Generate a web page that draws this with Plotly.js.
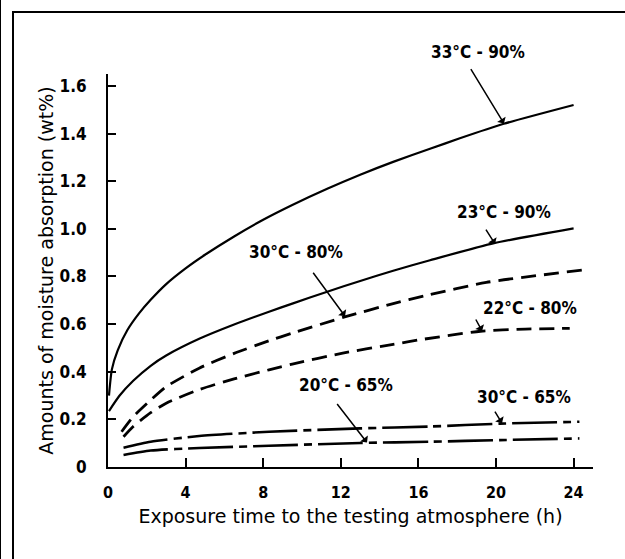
<!DOCTYPE html>
<html>
<head>
<meta charset="utf-8">
<script src="https://cdn.plot.ly/plotly-3.0.1.min.js"></script>
<style>
  html, body { margin: 0; padding: 0; background: #fff; }
  #wrap { position: relative; width: 625px; height: 559px; overflow: hidden; }
  #chart { position: absolute; left: 0; top: 0; width: 625px; height: 559px; }
  .fr { position: absolute; background: #000; }
</style>
</head>
<body>
<div id="wrap">
  <div id="chart"></div>
  <div class="fr" style="left:0;top:0;width:1px;height:559px;"></div>
  <div class="fr" style="left:12px;top:11px;width:2px;height:548px;"></div>
  <div class="fr" style="left:12px;top:11px;width:613px;height:2px;"></div>
</div>
<script>
// ---- data ----
const xTicks = [0, 4, 8, 12, 16, 20, 24];
const yTicks = [0, 0.2, 0.4, 0.6, 0.8, 1.0, 1.2, 1.4, 1.6];
const yTickText = ['0', '0.2', '0.4', '0.6', '0.8', '1.0', '1.2', '1.4', '1.6'];

const seriesNames = ['33°C - 90%', '23°C - 90%', '30°C - 80%', '22°C - 80%', '30°C - 65%', '20°C - 65%'];

const x33_90 = [0.05, 0.2, 0.5, 1.0, 1.6, 2.2, 3.0, 4.0, 5.0, 6.5, 8.0, 9.5, 11.3, 13.0, 14.7, 16.6, 18.1, 20.4, 24.0];
const y33_90 = [0.30, 0.41, 0.49, 0.575, 0.645, 0.702, 0.768, 0.834, 0.891, 0.968, 1.038, 1.100, 1.168, 1.227, 1.281, 1.336, 1.379, 1.441, 1.520];

const x23_90 = [0.05, 0.6, 1.3, 2.2, 3.0, 4.7, 6.5, 8.3, 9.5, 11.3, 13.0, 14.7, 16.6, 19.9, 24.0];
const y23_90 = [0.235, 0.30, 0.362, 0.425, 0.468, 0.538, 0.598, 0.652, 0.686, 0.736, 0.781, 0.824, 0.868, 0.940, 1.002];

const x30_80 = [0.7, 1.3, 2.2, 3.0, 4.7, 6.5, 8.3, 9.5, 12.2, 14.7, 16.3, 19.5, 24.5];
const y30_80 = [0.148, 0.211, 0.281, 0.337, 0.415, 0.477, 0.530, 0.562, 0.630, 0.686, 0.718, 0.775, 0.827];

const x22_80 = [0.8, 1.3, 2.2, 3.0, 4.7, 6.5, 8.3, 9.5, 12.1, 14.7, 16.3, 19.2, 21.5, 23.8];
const y22_80 = [0.127, 0.170, 0.228, 0.268, 0.325, 0.370, 0.408, 0.432, 0.478, 0.515, 0.537, 0.570, 0.579, 0.582];

const x30_65 = [0.8, 2.2, 4.7, 8.3, 13.0, 16.6, 20.2, 24.3];
const y30_65 = [0.081, 0.106, 0.130, 0.148, 0.162, 0.170, 0.182, 0.190];

const x20_65 = [0.8, 2.2, 4.7, 8.3, 13.0, 16.6, 20.2, 24.3];
const y20_65 = [0.050, 0.069, 0.080, 0.089, 0.101, 0.106, 0.113, 0.120];

// ---- drawing ----
const solid = {color: '#000', width: 2.2, shape: 'spline', smoothing: 0.6};
const dashed = {color: '#000', width: 2.8, shape: 'spline', smoothing: 0.6, dash: '15px,8px'};
const dashdot = {color: '#000', width: 2.6, shape: 'spline', smoothing: 0.6, dash: '45px,6px,8px,6px'};

const traces = [
  {x: x33_90, y: y33_90, name: seriesNames[0], mode: 'lines', line: solid},
  {x: x23_90, y: y23_90, name: seriesNames[1], mode: 'lines', line: solid},
  {x: x30_80, y: y30_80, name: seriesNames[2], mode: 'lines', line: dashed},
  {x: x22_80, y: y22_80, name: seriesNames[3], mode: 'lines', line: dashed},
  {x: x30_65, y: y30_65, name: seriesNames[4], mode: 'lines', line: dashdot},
  {x: x20_65, y: y20_65, name: seriesNames[5], mode: 'lines', line: dashdot}
];

const labFont = {family: '"DejaVu Sans Condensed", "DejaVu Sans", sans-serif', size: 17, color: '#000', weight: 'bold'};
function label(i, x, y, yref) {
  return {text: seriesNames[i], x: x, y: y, xref: 'x', yref: yref || 'y', showarrow: false, font: labFont,
          xanchor: 'center', yanchor: 'middle'};
}
function arrow(x, y, ax, ay) {
  return {text: '', x: x, y: y, xref: 'x', yref: 'y', ax: ax, ay: ay, showarrow: true,
          arrowhead: 1, arrowsize: 1.1, arrowwidth: 1.5, arrowcolor: '#000', standoff: 0, startstandoff: 0};
}

const layout = {
  width: 625, height: 559,
  margin: {l: 108, r: 32, t: 74, b: 92, pad: 0},
  paper_bgcolor: '#fff', plot_bgcolor: '#fff',
  showlegend: false,
  xaxis: {
    range: [0, 25], tickvals: xTicks, ticktext: xTicks.map(String),
    ticks: 'inside', ticklen: 9, tickwidth: 2, tickcolor: '#000',
    showline: true, linewidth: 2, linecolor: '#000', mirror: false,
    showgrid: false, zeroline: false,
    tickfont: {family: '"DejaVu Sans Condensed", "DejaVu Sans", sans-serif', size: 16, color: '#000', weight: 'bold'},
    ticklabelstandoff: 10,
    title: {text: 'Exposure time to the testing atmosphere (h)', standoff: 8,
            font: {family: '"DejaVu Sans", sans-serif', size: 19, color: '#000'}},
    automargin: false
  },
  yaxis: {
    range: [0, 1.65], tickvals: yTicks, ticktext: yTickText,
    ticks: 'inside', ticklen: 8, tickwidth: 2, tickcolor: '#000',
    showline: true, linewidth: 2, linecolor: '#000',
    showgrid: false, zeroline: false,
    tickfont: {family: '"DejaVu Sans Condensed", "DejaVu Sans", sans-serif', size: 17, color: '#000', weight: 'bold'},
    ticklabelstandoff: 16,
    title: {text: 'Amounts of moisture absorption (wt%)', standoff: 1,
            font: {family: '"DejaVu Sans", sans-serif', size: 19, color: '#000'}},
    automargin: false
  },
  annotations: [
    label(0, 19.07, 1.742 / 1.65, 'paper'), arrow(20.41, 1.442, -34, -56),
    label(1, 20.41, 1.071), arrow(19.95, 0.936, -10, -16),
    label(2, 9.69, 0.903),  arrow(12.22, 0.633, -33, -45),
    label(3, 21.75, 0.668), arrow(19.28, 0.571, -7, -13),
    label(5, 12.27, 0.344), arrow(13.35, 0.103, -31, -40),
    label(4, 21.44, 0.294), arrow(20.31, 0.184, -8, -13)
  ]
};

Plotly.newPlot('chart', traces, layout, {staticPlot: true, displayModeBar: false});
</script>
</body>
</html>
